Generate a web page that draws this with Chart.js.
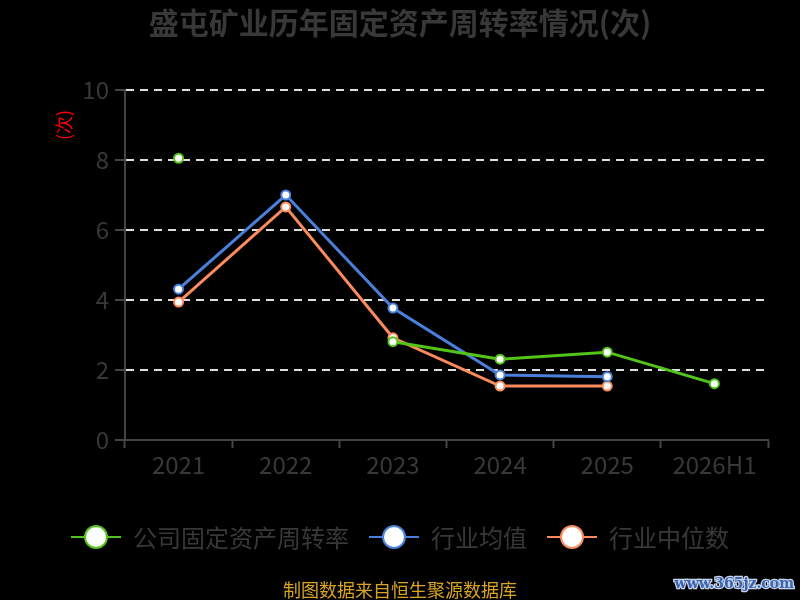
<!DOCTYPE html>
<html>
<head>
<meta charset="utf-8">
<script src="https://cdn.jsdelivr.net/npm/chart.js@4/dist/chart.umd.min.js"></script>
<style>
  html, body { margin: 0; padding: 0; background: #000; }
  #wrap { width: 800px; height: 600px; }
</style>
</head>
<body>
<div id="wrap"><canvas id="chart" width="800" height="600"></canvas></div>
<script>
const FONT = '"Noto Sans CJK SC", "Noto Sans", sans-serif';

const categories = ["2021", "2022", "2023", "2024", "2025", "2026H1"];
const companyValues = [8.05, null, 2.81, 2.31, 2.51, 1.61];
const industryAvg = [4.31, 7.0, 3.77, 1.86, 1.81, null];
const industryMedian = [3.94, 6.66, 2.92, 1.54, 1.54, null];
const yTicks = [0, 2, 4, 6, 8, 10];

const seriesNames = ["公司固定资产周转率", "行业均值", "行业中位数"];
const seriesColors = ["#52c41a", "#4a80dc", "#fb8b5c"];

const titleText = "盛屯矿业历年固定资产周转率情况(次)";
const footerText = "制图数据来自恒生聚源数据库";

function makeDataset(i, values) {
  return {
    label: seriesNames[i],
    data: values,
    borderColor: seriesColors[i],
    backgroundColor: "#fff",
    pointBackgroundColor: "#fff",
    pointBorderColor: seriesColors[i],
    pointBorderWidth: 2,
    pointRadius: 4.5,
    borderWidth: 3,
    tension: 0,
    spanGaps: false
  };
}

// title, y unit, legend, footer and watermark drawn by hand
const decorPlugin = {
  id: "decor",
  afterDraw(chart) {
    const ctx = chart.ctx;
    ctx.save();

    ctx.fillStyle = "#383838";
    ctx.font = "bold 30px " + FONT;
    ctx.textAlign = "center";
    ctx.textBaseline = "middle";
    ctx.fillText(titleText, 400, 23);

    // y unit label
    ctx.save();
    ctx.translate(64, 125);
    ctx.rotate(-Math.PI / 2);
    ctx.fillStyle = "#ff0000";
    ctx.font = "18px " + FONT;
    ctx.fillText("(次)", 0, 0);
    ctx.restore();

    // legend
    ctx.font = "24px " + FONT;
    const widths = seriesNames.map(n => ctx.measureText(n).width);
    const sym = 50, gap = 12, between = 20;
    let total = 0;
    widths.forEach((w, i) => { total += sym + gap + w + (i < widths.length - 1 ? between : 0); });
    let x = (800 - total) / 2;
    const ly = 537;
    seriesNames.forEach((name, i) => {
      ctx.strokeStyle = seriesColors[i];
      ctx.lineWidth = 2;
      ctx.beginPath();
      ctx.moveTo(x, ly);
      ctx.lineTo(x + sym, ly);
      ctx.stroke();
      ctx.beginPath();
      ctx.arc(x + sym / 2, ly, 11, 0, Math.PI * 2);
      ctx.fillStyle = "#fff";
      ctx.fill();
      ctx.lineWidth = 2;
      ctx.stroke();
      ctx.fillStyle = "#383838";
      ctx.textAlign = "left";
      ctx.fillText(name, x + sym + gap, ly + 1);
      x += sym + gap + widths[i] + between;
    });

    // footer
    ctx.font = "18px " + FONT;
    ctx.fillStyle = "#d9a521";
    ctx.textAlign = "center";
    ctx.fillText(footerText, 400, 590);

    // watermark
    ctx.font = "bold 14px \"DejaVu Serif\", serif";
    ctx.textAlign = "right";
    ctx.lineWidth = 2.5;
    ctx.strokeStyle = "#c8d4ea";
    ctx.strokeText("www.365jz.com", 794, 584);
    ctx.fillStyle = "#3a64b4";
    ctx.fillText("www.365jz.com", 794, 584);

    ctx.restore();
  }
};

new Chart(document.getElementById("chart"), {
  type: "line",
  data: {
    labels: categories,
    datasets: [
      makeDataset(0, companyValues),
      makeDataset(1, industryAvg),
      makeDataset(2, industryMedian)
    ]
  },
  options: {
    responsive: false,
    animation: false,
    layout: { padding: { top: 90, right: 32, bottom: 0, left: 0 } },
    plugins: {
      legend: { display: false },
      title: { display: false },
      tooltip: { enabled: false }
    },
    scales: {
      x: {
        offset: true,
        grid: { offset: true, drawOnChartArea: false, drawTicks: true, tickLength: 8, tickColor: "#444", tickWidth: 2 },
        border: { color: "#444", width: 2 },
        ticks: { color: "#383838", font: { family: FONT, size: 24 }, padding: 2 },
        afterFit(scale) { scale.height = 160; }
      },
      y: {
        min: 0,
        max: 10,
        afterBuildTicks(scale) { scale.ticks = yTicks.map(v => ({ value: v })); },
        grid: { color: "#dddddd", lineWidth: 2, tickColor: "#444", tickLength: 10, tickWidth: 2 },
        border: { color: "#444", width: 2, dash: [8, 6] },
        ticks: { color: "#383838", font: { family: FONT, size: 24 }, padding: 6 },
        afterFit(scale) { scale.width = 125; }
      }
    }
  },
  plugins: [decorPlugin]
});
</script>
</body>
</html>
